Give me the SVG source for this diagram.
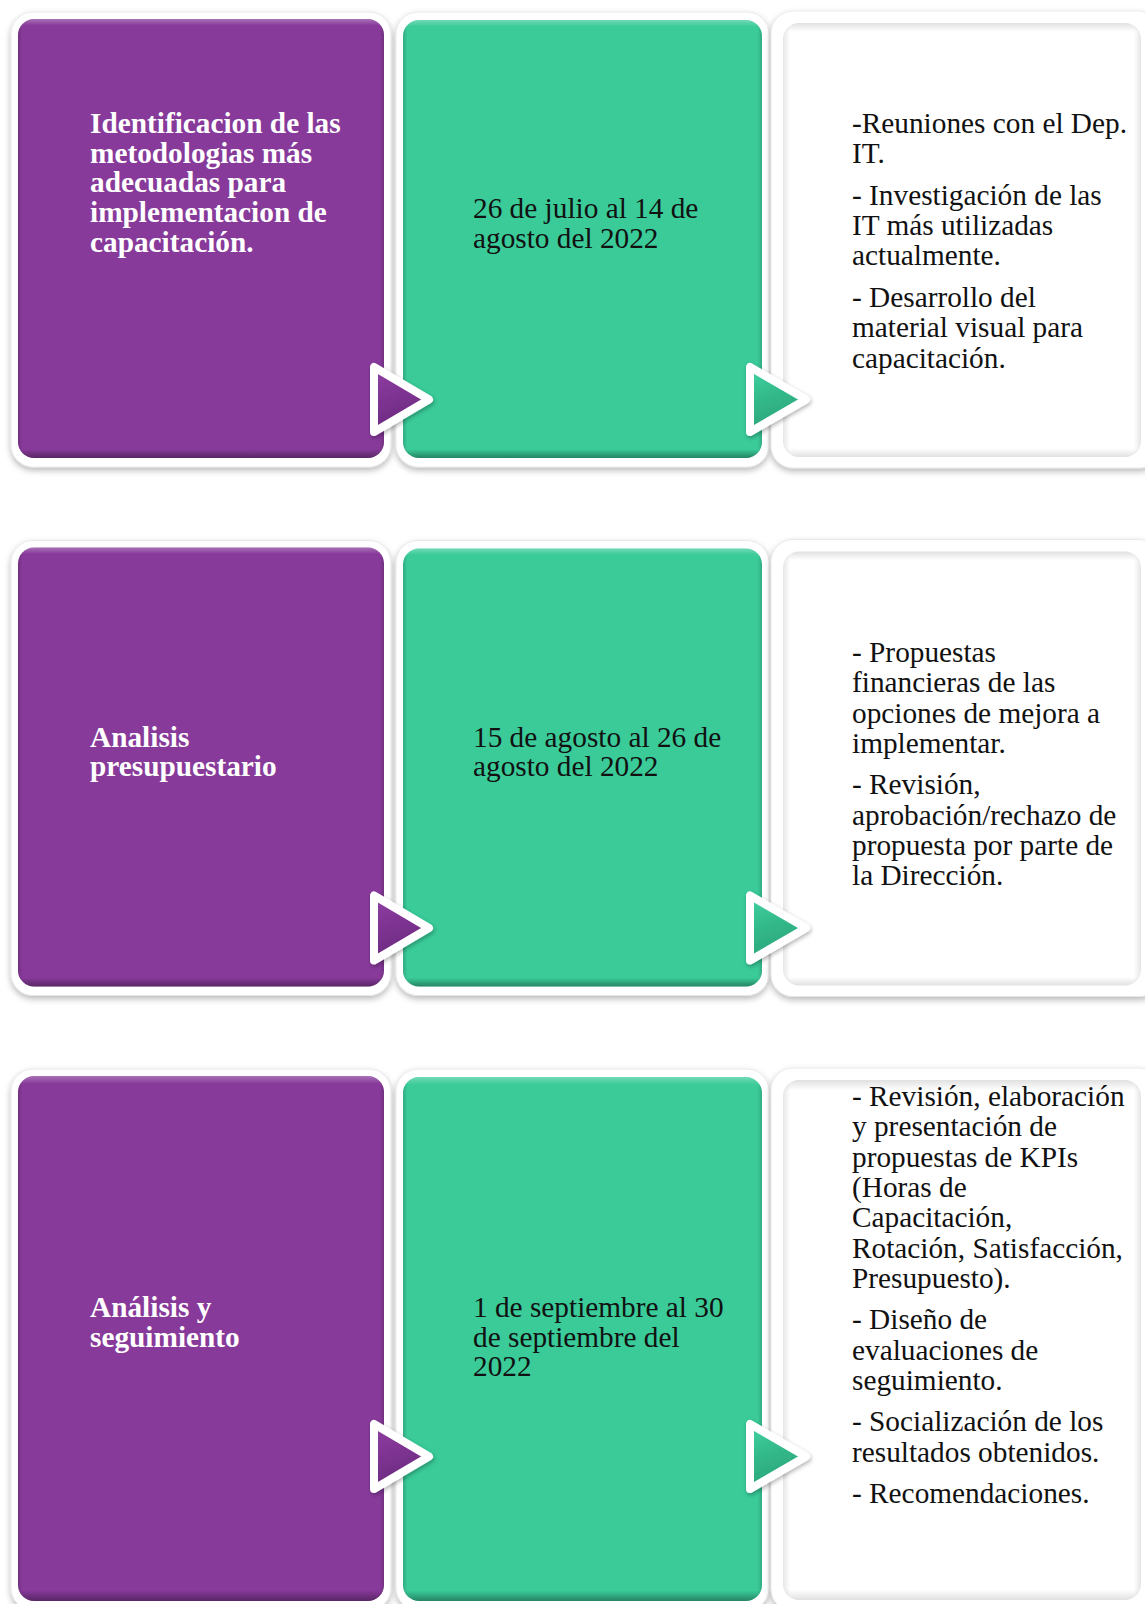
<svg xmlns="http://www.w3.org/2000/svg" width="1145" height="1604" viewBox="0 0 1145 1604">
<defs>
<style>
.frame{fill:#ffffff;stroke:#e4e4e4;stroke-width:0.8;filter:url(#sh)}
.pur{fill:#873A9A}
.grn{fill:#3ACB99}
.wht{fill:#ffffff}
.vs{fill:url(#vshade)}
.hs{fill:url(#hshade)}
.wvs{fill:url(#wvshade)}
.whs{fill:url(#whshade)}
.arw{stroke:#ffffff;stroke-width:8;stroke-linejoin:round;filter:url(#ash)}
.ap{fill:url(#apg)}
.ag{fill:url(#agg)}
.tb{font-family:"Liberation Serif","Times New Roman",serif;font-size:29.3px;font-weight:bold;fill:#ffffff}
.tn{font-family:"Liberation Serif","Times New Roman",serif;font-size:29.3px;fill:#111111}
</style>
<filter id="sh" x="-10%" y="-10%" width="120%" height="120%">
<feDropShadow dx="0" dy="3" stdDeviation="3" flood-color="#000" flood-opacity="0.28"/>
</filter>
<filter id="ash" x="-30%" y="-30%" width="160%" height="160%">
<feDropShadow dx="1" dy="2" stdDeviation="2" flood-color="#000" flood-opacity="0.3"/>
</filter>
<linearGradient id="vshade" x1="0" y1="0" x2="0" y2="1">
<stop offset="0" stop-color="#ffffff" stop-opacity="0.28"/>
<stop offset="0.015" stop-color="#ffffff" stop-opacity="0"/>
<stop offset="0.98" stop-color="#000000" stop-opacity="0"/>
<stop offset="1" stop-color="#000000" stop-opacity="0.35"/>
</linearGradient>
<linearGradient id="hshade" x1="0" y1="0" x2="1" y2="0">
<stop offset="0" stop-color="#000000" stop-opacity="0.16"/>
<stop offset="0.012" stop-color="#000000" stop-opacity="0"/>
<stop offset="0.988" stop-color="#000000" stop-opacity="0"/>
<stop offset="1" stop-color="#000000" stop-opacity="0.16"/>
</linearGradient>
<linearGradient id="wvshade" x1="0" y1="0" x2="0" y2="1">
<stop offset="0" stop-color="#000000" stop-opacity="0.12"/>
<stop offset="0.02" stop-color="#000000" stop-opacity="0"/>
<stop offset="0.98" stop-color="#000000" stop-opacity="0"/>
<stop offset="1" stop-color="#000000" stop-opacity="0.12"/>
</linearGradient>
<linearGradient id="whshade" x1="0" y1="0" x2="1" y2="0">
<stop offset="0" stop-color="#000000" stop-opacity="0.1"/>
<stop offset="0.02" stop-color="#000000" stop-opacity="0"/>
<stop offset="0.98" stop-color="#000000" stop-opacity="0"/>
<stop offset="1" stop-color="#000000" stop-opacity="0.1"/>
</linearGradient>
<linearGradient id="apg" x1="0" y1="0" x2="0.3" y2="1">
<stop offset="0" stop-color="#9040a3"/>
<stop offset="0.5" stop-color="#7e3392"/>
<stop offset="1" stop-color="#6a2a7e"/>
</linearGradient>
<linearGradient id="agg" x1="0" y1="0" x2="0.3" y2="1">
<stop offset="0" stop-color="#42d3a2"/>
<stop offset="0.5" stop-color="#33b98a"/>
<stop offset="1" stop-color="#2aa57a"/>
</linearGradient>
</defs>
<rect width="1145" height="1604" fill="#ffffff"/>

<!-- Row 1 -->
<g id="phase1">
<rect class="frame" x="11" y="12" width="380" height="455" rx="22"/>
<rect class="pur" x="18" y="19" width="366" height="439" rx="16"/>
<rect class="vs" x="18" y="19" width="366" height="439" rx="16"/>
<rect class="hs" x="18" y="19" width="366" height="439" rx="16"/>
<text class="tb"><tspan x="90" y="133">Identificacion de las</tspan><tspan x="90" y="162.7">metodologias más</tspan><tspan x="90" y="192.4">adecuadas para</tspan><tspan x="90" y="222.1">implementacion de</tspan><tspan x="90" y="251.8">capacitación.</tspan></text>
</g>
<g id="date1">
<rect class="frame" x="396" y="12" width="373" height="455" rx="22"/>
<rect class="grn" x="403" y="20" width="359" height="438" rx="16"/>
<rect class="vs" x="403" y="20" width="359" height="438" rx="16"/>
<rect class="hs" x="403" y="20" width="359" height="438" rx="16"/>
<text class="tn"><tspan x="473" y="218">26 de julio al 14 de</tspan><tspan x="473" y="247.7">agosto del 2022</tspan></text>
</g>
<g id="tasks1">
<rect class="frame" x="771" y="11" width="390" height="457" rx="22"/>
<rect class="wht" x="783" y="23" width="358" height="434" rx="16"/>
<rect class="wvs" x="783" y="23" width="358" height="434" rx="16"/>
<rect class="whs" x="783" y="23" width="358" height="434" rx="16"/>
<text class="tn"><tspan x="852" y="133">-Reuniones con el Dep.</tspan><tspan x="852" y="163.3">IT.</tspan><tspan x="852" y="204.8">- Investigación de las</tspan><tspan x="852" y="235.1">IT más utilizadas</tspan><tspan x="852" y="265.4">actualmente.</tspan><tspan x="852" y="306.9">- Desarrollo del</tspan><tspan x="852" y="337.2">material visual para</tspan><tspan x="852" y="367.5">capacitación.</tspan></text>
</g>

<!-- Row 2 -->
<g id="phase2">
<rect class="frame" x="11" y="540.5" width="380" height="455" rx="22"/>
<rect class="pur" x="18" y="547.5" width="366" height="439" rx="16"/>
<rect class="vs" x="18" y="547.5" width="366" height="439" rx="16"/>
<rect class="hs" x="18" y="547.5" width="366" height="439" rx="16"/>
<text class="tb"><tspan x="90" y="746.5">Analisis</tspan><tspan x="90" y="776">presupuestario</tspan></text>
</g>
<g id="date2">
<rect class="frame" x="396" y="540.5" width="373" height="455" rx="22"/>
<rect class="grn" x="403" y="548.5" width="359" height="438" rx="16"/>
<rect class="vs" x="403" y="548.5" width="359" height="438" rx="16"/>
<rect class="hs" x="403" y="548.5" width="359" height="438" rx="16"/>
<text class="tn"><tspan x="473" y="746.5">15 de agosto al 26 de</tspan><tspan x="473" y="776">agosto del 2022</tspan></text>
</g>
<g id="tasks2">
<rect class="frame" x="771" y="539.5" width="390" height="457" rx="22"/>
<rect class="wht" x="783" y="551.5" width="358" height="434" rx="16"/>
<rect class="wvs" x="783" y="551.5" width="358" height="434" rx="16"/>
<rect class="whs" x="783" y="551.5" width="358" height="434" rx="16"/>
<text class="tn"><tspan x="852" y="662">- Propuestas</tspan><tspan x="852" y="692.3">financieras de las</tspan><tspan x="852" y="722.6">opciones de mejora a</tspan><tspan x="852" y="752.9">implementar.</tspan><tspan x="852" y="794.4">- Revisión,</tspan><tspan x="852" y="824.7">aprobación/rechazo de</tspan><tspan x="852" y="855">propuesta por parte de</tspan><tspan x="852" y="885.3">la Dirección.</tspan></text>
</g>

<!-- Row 3 -->
<g id="phase3">
<rect class="frame" x="11" y="1069" width="380" height="541" rx="22"/>
<rect class="pur" x="18" y="1076" width="366" height="525" rx="16"/>
<rect class="vs" x="18" y="1076" width="366" height="525" rx="16"/>
<rect class="hs" x="18" y="1076" width="366" height="525" rx="16"/>
<text class="tb"><tspan x="90" y="1317">Análisis y</tspan><tspan x="90" y="1346.5">seguimiento</tspan></text>
</g>
<g id="date3">
<rect class="frame" x="396" y="1069" width="373" height="541" rx="22"/>
<rect class="grn" x="403" y="1077" width="359" height="524" rx="16"/>
<rect class="vs" x="403" y="1077" width="359" height="524" rx="16"/>
<rect class="hs" x="403" y="1077" width="359" height="524" rx="16"/>
<text class="tn"><tspan x="473" y="1317">1 de septiembre al 30</tspan><tspan x="473" y="1346.5">de septiembre del</tspan><tspan x="473" y="1376">2022</tspan></text>
</g>
<g id="tasks3">
<rect class="frame" x="771" y="1068" width="390" height="543" rx="22"/>
<rect class="wht" x="783" y="1080" width="358" height="520" rx="16"/>
<rect class="wvs" x="783" y="1080" width="358" height="520" rx="16"/>
<rect class="whs" x="783" y="1080" width="358" height="520" rx="16"/>
<text class="tn"><tspan x="852" y="1106">- Revisión, elaboración</tspan><tspan x="852" y="1136.3">y presentación de</tspan><tspan x="852" y="1166.6">propuestas de KPIs</tspan><tspan x="852" y="1196.9">(Horas de</tspan><tspan x="852" y="1227.2">Capacitación,</tspan><tspan x="852" y="1257.5">Rotación, Satisfacción,</tspan><tspan x="852" y="1287.8">Presupuesto).</tspan><tspan x="852" y="1329.3">- Diseño de</tspan><tspan x="852" y="1359.6">evaluaciones de</tspan><tspan x="852" y="1389.9">seguimiento.</tspan><tspan x="852" y="1431.4">- Socialización de los</tspan><tspan x="852" y="1461.7">resultados obtenidos.</tspan><tspan x="852" y="1503.2">- Recomendaciones.</tspan></text>
</g>

<!-- Connectors (arrows) -->
<g id="connectors">
<path class="arw ap" d="M374,367 L374,432 L429,399.5 Z"/>
<path class="arw ag" d="M750,367 L750,432 L806,399.5 Z"/>
<path class="arw ap" d="M374,895.5 L374,960.5 L429,928 Z"/>
<path class="arw ag" d="M750,895.5 L750,960.5 L806,928 Z"/>
<path class="arw ap" d="M374,1424 L374,1489 L429,1456.5 Z"/>
<path class="arw ag" d="M750,1424 L750,1489 L806,1456.5 Z"/>
</g>
</svg>
